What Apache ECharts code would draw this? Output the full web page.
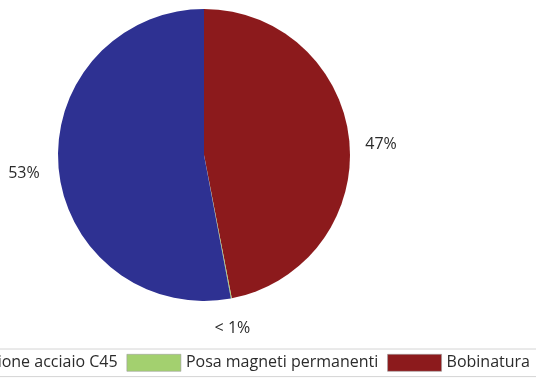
<!DOCTYPE html>
<html>
<head>
<meta charset="utf-8">
<script src="https://cdn.jsdelivr.net/npm/echarts@6/dist/echarts.min.js"></script>
<style>
  html, body { margin: 0; padding: 0; background: #ffffff; }
  #chart { width: 536px; height: 380px; }
</style>
</head>
<body>
<div id="chart"></div>
<script>
// Quote di costo per fase di lavorazione (ordine in senso orario dall'alto)
const categories = ['Bobinatura', 'Posa magneti permanenti', 'Lavorazione acciaio C45'];
const values = [47, 0.1, 53];
const colors = ['#8c1a1c', '#a3d06f', '#2e3192'];
const legendOrder = ['Lavorazione acciaio C45', 'Posa magneti permanenti', 'Bobinatura'];

const chart = echarts.init(document.getElementById('chart'), null, { renderer: 'canvas' });

const fontFamily = 'Open Sans, Lato, sans-serif';

chart.setOption({
  animation: false,
  backgroundColor: '#ffffff',
  legend: {
    data: legendOrder,
    right: -4,
    top: 349,
    width: 1000,
    orient: 'horizontal',
    itemWidth: 54,
    itemHeight: 17,
    itemGap: 9,
    padding: [5, 10, 5, 11],
    borderColor: '#d4d4d4',
    borderWidth: 1,
    icon: 'rect',
    itemStyle: { borderColor: '#9e9e9e', borderWidth: 0.6 },
    textStyle: { fontFamily: fontFamily, fontSize: 16, color: '#2b2b2b' }
  },
  series: [{
    type: 'pie',
    center: [204, 155],
    radius: 146,
    startAngle: 90,
    clockwise: true,
    avoidLabelOverlap: false,
    data: categories.map((name, i) => ({
      name: name,
      value: values[i],
      itemStyle: { color: colors[i] }
    })),
    label: {
      show: true,
      position: 'outside',
      fontFamily: fontFamily,
      fontSize: 16,
      color: '#2b2b2b',
      formatter: p => p.percent < 1 ? '< 1%' : Math.round(p.percent) + '%'
    },
    labelLine: { show: false, length: 12, length2: 0 },
    // nudge the outside labels into their usual spots
    labelLayout: p => {
      if (p.dataIndex === 0) return { dx: -1, dy: 5 };
      if (p.dataIndex === 1) return { dx: -24, dy: 18 };
      return { dx: -2, dy: 4 };
    }
  }]
});
</script>
</body>
</html>
